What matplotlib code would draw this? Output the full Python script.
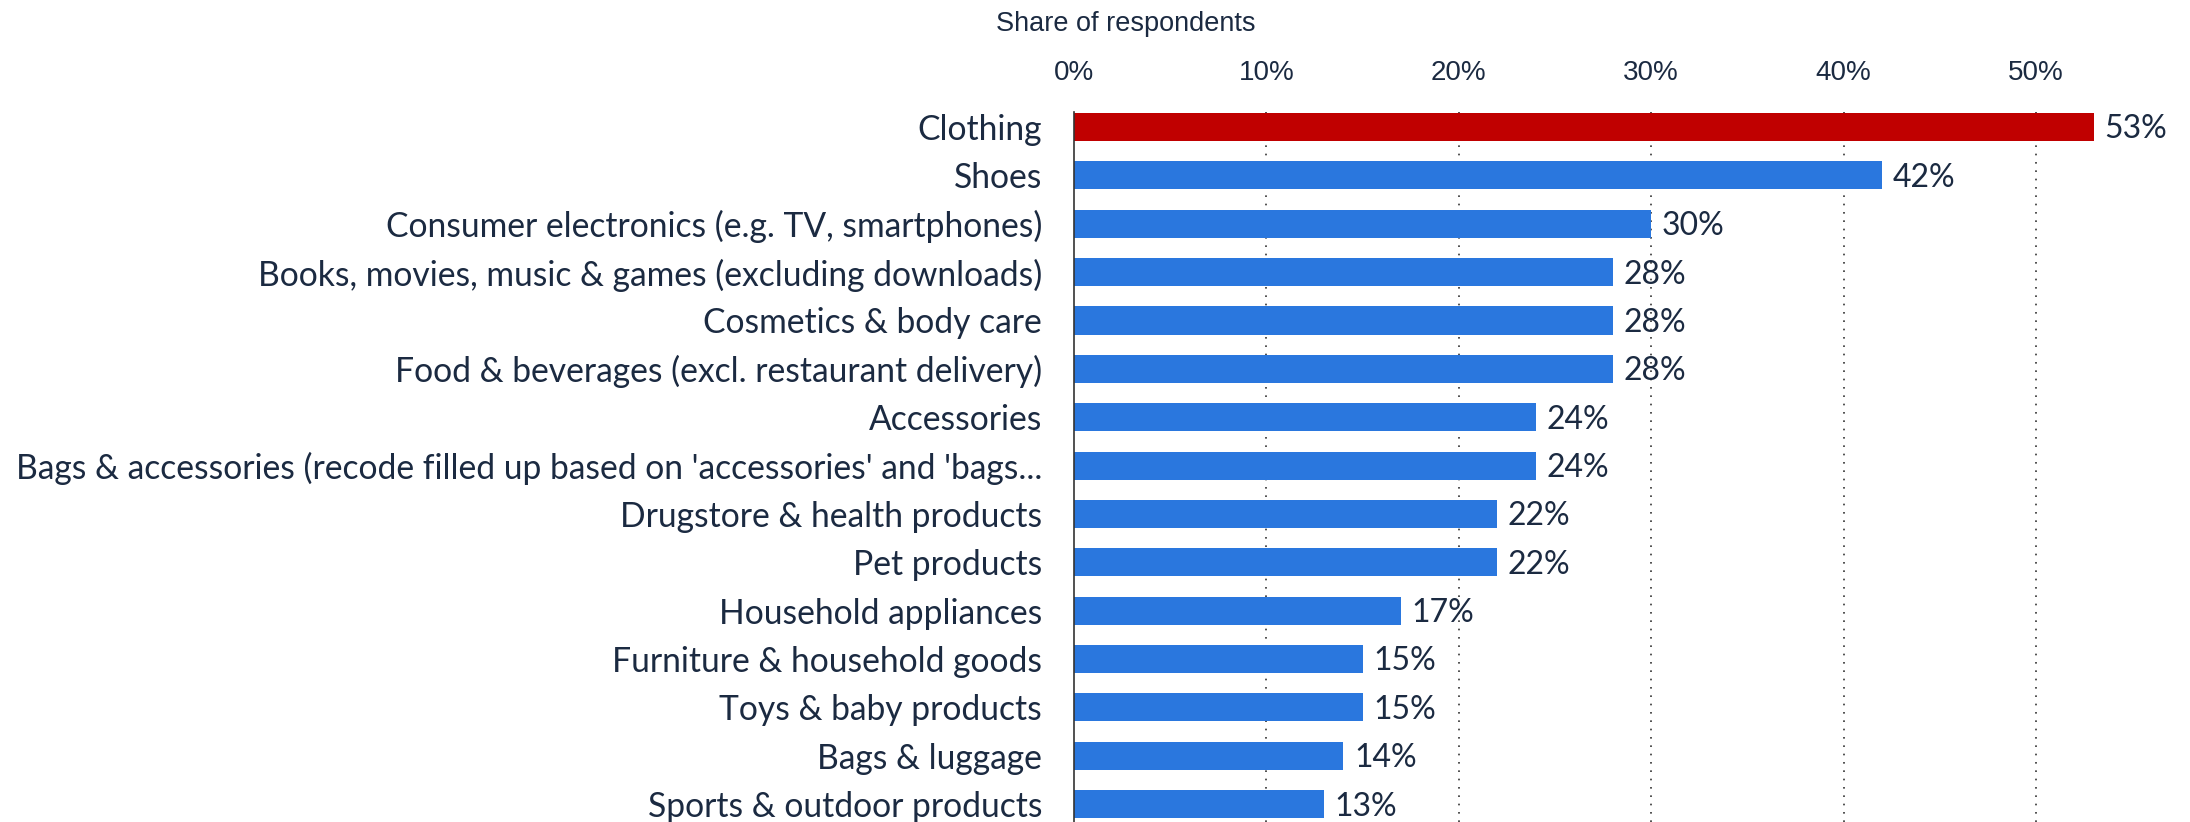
import matplotlib
matplotlib.use("Agg")
import matplotlib.pyplot as plt
from matplotlib.ticker import FuncFormatter

categories = [
    "Clothing",
    "Shoes",
    "Consumer electronics (e.g. TV, smartphones)",
    "Books, movies, music & games (excluding downloads)",
    "Cosmetics & body care",
    "Food & beverages (excl. restaurant delivery)",
    "Accessories",
    "Bags & accessories (recode filled up based on 'accessories' and 'bags...",
    "Drugstore & health products",
    "Pet products",
    "Household appliances",
    "Furniture & household goods",
    "Toys & baby products",
    "Bags & luggage",
    "Sports & outdoor products",
]
shares = [53, 42, 30, 28, 28, 28, 24, 24, 22, 22, 17, 15, 15, 14, 13]
highlight = "Clothing"

text_color = "#1b2a41"
blue = "#2a77de"
red = "#c00000"
label_font = ["Lato", "DejaVu Sans"]
tick_font = ["Liberation Sans", "DejaVu Sans"]

fig = plt.figure(figsize=(21.9, 8.22), dpi=100)
ax = fig.add_axes([0.4904, 0.0, 0.5096, 0.8637])

colors = [red if c == highlight else blue for c in categories]
ypos = list(range(len(categories)))
ax.barh(ypos, shares, height=0.58, color=colors, zorder=3)

for y, v in zip(ypos, shares):
    ax.text(v + 0.55, y + 0.05, f"{v}%", va="center", ha="left", fontsize=23,
            color=text_color, family=label_font)

ax.set_xlim(0, 58)
ax.set_ylim(14.37, -0.31)
ax.set_yticks(ypos)
ax.set_yticklabels(categories, fontsize=24.2, color=text_color, family=label_font)
ax.tick_params(axis="y", length=0, pad=23)

ax.set_xticks([0, 10, 20, 30, 40, 50])
ax.xaxis.set_major_formatter(FuncFormatter(lambda v, p: f"{v:.0f}%"))
ax.xaxis.tick_top()
ax.tick_params(axis="x", length=0, pad=19, labelsize=20, labelcolor=text_color)
for lab in ax.get_xticklabels():
    lab.set_family(tick_font)

ax.grid(axis="x", linestyle=(0, (1, 4)), color="#333333", linewidth=1.2, zorder=0)
ax.get_xgridlines()[0].set_visible(False)
for s in ["top", "right", "bottom"]:
    ax.spines[s].set_visible(False)
ax.spines["left"].set_color("#333333")
ax.spines["left"].set_linewidth(1.2)
ax.spines["left"].set_zorder(4)

fig.text(0.4548, 0.971, "Share of respondents", fontsize=19.5, color=text_color,
         ha="left", va="center", family=tick_font)

fig.savefig("out.png", dpi=100)
